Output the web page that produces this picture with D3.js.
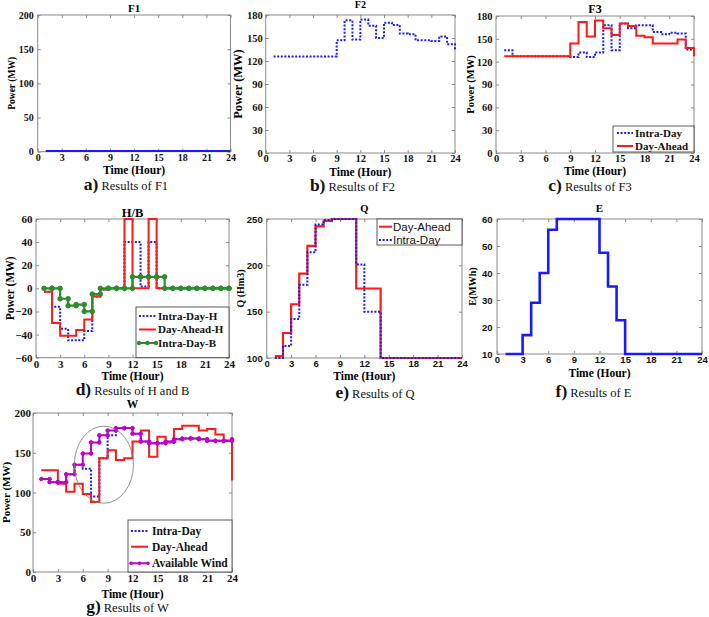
<!DOCTYPE html>
<html><head><meta charset="utf-8">
<script src="https://cdn.jsdelivr.net/npm/d3@7"></script>
<style>
body{margin:0;background:#fff}
svg{display:block}
</style>
</head><body>
<svg id="c" width="709" height="617"></svg>
<script>
// ---------------- DATA ----------------
const HOURS = [1,2,3,4,5,6,7,8,9,10,11,12,13,14,15,16,17,18,19,20,21,22,23,24];
const X_TICKS = [0,3,6,9,12,15,18,21,24];

const F1_TICKS = [0,50,100,150,200];
const F1_POWER = [1,1,1,1,1,1,1,1,1,1,1,1,1,1,1,1,1,1,1,1,1,1,1,1];

const F2_TICKS = [0,30,60,90,120,150,180];
const F2_POWER = [126,126,126,126,126,126,126,126,147,173,148,174,166,150,170,167,156,155,147,147,146,152,142,134];

const F3_TICKS = [0,30,60,90,120,150,180];
const F3_INTRA = [135,127,127,127,127,127,127,127,126,132,126,132,168,135,170,164,168,168,159,156,158,157,136,136];
const F3_AHEAD = [127,127,127,127,127,127,127,127,144,172,153,174,164,155,170,167,154,152,144,144,144,149,138,127];

const HB_TICKS = [-60,-40,-20,0,20,40,60];
const HB_INTRA_H = [-3,-16,-35,-45,-45,-37,-7,-1,0,0,40,40,1.5,40,0,0,0,0,0,0,0,0,0,0];
const HB_AHEAD_H = [-3,-30,-41,-41,-36,-27,-7,-1,0,0,60,0,0,60,0,0,0,0,0,0,0,0,0,0];
const HB_INTRA_B = [0,0,-9,-15,-14,-20,-5,0,0,0,0,10,10,10,10,0,0,0,0,0,0,0,0,0];

const Q_TICKS = [100,150,200,250];
const Q_AHEAD = [102,127,158,191,221,242,248,250,250,250,175,175,175,100,100,100,100,100,100,100,100,100,100,100];
const Q_INTRA = [100,113,142,179,214,244,249,250,250,250,201,150,150,100,100,100,100,100,100,100,100,100,100,100];

const E_TICKS = [10,20,30,40,50,60];
const E_VALUES = [10,10,17,29,40,56,60,60,60,60,60,47.5,35,22.5,10,10,10,10,10,10,10,10,10,10];

const W_TICKS = [0,50,100,150,200];
const W_INTRA = [117,113,113,123,135,130,95,143,172,181,181,174,164,162,162,164,167,168,168,167,165,165,165,167];
const W_AHEAD = [128,128,111,101,111,98,88,143,153,141,143,164,178,145,170,163,180,184,184,178,180,173,165,115];
const W_AVAIL = [117,113,113,123,135,149,163,172,178,181,181,174,164,162,162,164,167,168,168,167,165,165,165,167];
// annotation ellipse (center hour, center MW, radius hours, radius MW)
const W_ELLIPSE = [8.55, 135, 3.56, 48.5];

// ---------------- STYLE ----------------
const SERIF = "'Liberation Serif','Times New Roman',serif";
const SANS = "'Liberation Sans',Arial,sans-serif";
const BLUE = "#1a1aff", RED = "#ff1a1a", GREEN = "#2e8b2e", MAG = "#c000c8", FRAME = "#8a8a8a";

const svg = d3.select("#c");

function vertexPts(vals){
  const pts = [];
  vals.forEach((v,i)=>{ if(i>0) pts.push([HOURS[i], vals[i-1]]); pts.push([HOURS[i], v]); });
  return pts;
}

function panel(o){
  const g = svg.append("g");
  const x = d3.scaleLinear().domain([0,24]).range([o.l,o.r]);
  const y = d3.scaleLinear().domain(o.yDom).range([o.b,o.t]);
  const tf = o.tickFont || SERIF;

  const gb = g.append("g").attr("transform",`translate(0,${o.b})`)
    .call(d3.axisBottom(x).tickValues(X_TICKS).tickSizeInner(-3).tickSizeOuter(0).tickPadding(o.xPad||2));
  g.append("g").attr("transform",`translate(0,${o.t})`)
    .call(d3.axisTop(x).tickValues(X_TICKS).tickSizeInner(-3).tickSizeOuter(0).tickFormat(""));
  const gl = g.append("g").attr("transform",`translate(${o.l},0)`)
    .call(d3.axisLeft(y).tickValues(o.yTicks).tickSizeInner(-3).tickSizeOuter(0).tickPadding(o.yPad||4));
  g.append("g").attr("transform",`translate(${o.r},0)`)
    .call(d3.axisRight(y).tickValues(o.yTicks).tickSizeInner(-3).tickSizeOuter(0).tickFormat(""));
  g.selectAll(".domain").remove();
  g.selectAll(".tick line").attr("stroke",FRAME);
  [gb,gl].forEach(a=>a.selectAll("text")
    .attr("font-family",tf).attr("font-weight","bold").attr("font-size",o.tickSize).attr("fill","#111"));

  g.append("rect").attr("x",o.l).attr("y",o.t).attr("width",o.r-o.l).attr("height",o.b-o.t)
    .attr("fill","none").attr("stroke",FRAME).attr("stroke-width",1);

  const line = d3.line().x(d=>x(d[0])).y(d=>y(d[1])).curve(d3.curveStepAfter);
  o.series.forEach(s=>{
    g.append("path").datum(s.vals.map((v,i)=>[HOURS[i],v]))
      .attr("d",line).attr("fill","none").attr("stroke",s.color)
      .attr("stroke-width",s.width||2).attr("stroke-dasharray",s.dash||null);
    if(s.marker){
      g.append("g").selectAll("circle").data(vertexPts(s.vals)).join("circle")
        .attr("cx",d=>x(d[0])).attr("cy",d=>y(d[1])).attr("r",s.marker)
        .attr("fill",s.color).attr("stroke",s.color);
    }
  });

  // title
  g.append("text").attr("x",(o.l+o.r)/2).attr("y",o.titleY).attr("text-anchor","middle")
    .attr("font-family",SERIF).attr("font-weight","bold").attr("font-size",o.titleSize||11.5).text(o.title);
  // x label
  g.append("text").attr("x",(o.l+o.r)/2).attr("y",o.xlabY).attr("text-anchor","middle")
    .attr("font-family",SERIF).attr("font-weight","bold").attr("font-size",11.5).text("Time (Hour)");
  // y label
  g.append("text").attr("transform",`translate(${o.ylabX},${(o.t+o.b)/2}) rotate(-90)`)
    .attr("text-anchor","middle").attr("dy","0.35em")
    .attr("font-family",SERIF).attr("font-weight","bold").attr("font-size",o.ylabSize).text(o.ylab);
  // caption
  const cap = g.append("text").attr("x",o.capX).attr("y",o.capY).attr("text-anchor","middle").attr("font-family",SERIF).attr("fill","#111");
  cap.append("tspan").attr("font-weight","bold").attr("font-size",17.5).text(o.capL);
  cap.append("tspan").attr("font-size",12.5).attr("dx",3).text(o.capT);

  if(o.legend){
    const L = o.legend;
    g.append("rect").attr("x",L.x0).attr("y",L.y0).attr("width",L.x1-L.x0).attr("height",L.y1-L.y0)
      .attr("fill","#fff").attr("stroke","#333").attr("stroke-width",0.8);
    L.items.forEach(it=>{
      g.append("line").attr("x1",L.lx0).attr("x2",L.lx1).attr("y1",it.y).attr("y2",it.y)
        .attr("stroke",it.color).attr("stroke-width",it.width||2).attr("stroke-dasharray",it.dash||null);
      if(it.marker){
        [L.lx0,(L.lx0+L.lx1)/2,L.lx1].forEach(px=>g.append("circle").attr("cx",px).attr("cy",it.y).attr("r",it.marker).attr("fill",it.color));
      }
      g.append("text").attr("x",L.tx).attr("y",it.y).attr("dy","0.35em")
        .attr("font-family",L.font||SERIF).attr("font-weight",L.weight||"bold").attr("font-size",L.size||11)
        .attr("fill","#111").text(it.label);
    });
  }
  return {g,x,y};
}

// a) F1
panel({l:37.7,r:230.5,t:15,b:151.7,yDom:[0,200],yTicks:F1_TICKS,tickSize:10,yPad:4,
  title:"F1",titleY:12,titleSize:11,xlabY:174,ylab:"Power (MW)",ylabX:12,ylabSize:9.5,
  capX:126,capY:190,capL:"a)",capT:"Results of F1",
  series:[{vals:F1_POWER,color:BLUE,width:2}]});

// b) F2
panel({l:265.7,r:455,t:15,b:153,yDom:[0,180],yTicks:F2_TICKS,tickSize:10.5,yPad:3,
  title:"F2",titleY:8,titleSize:10,xlabY:176,ylab:"Power (MW)",ylabX:238,ylabSize:12.5,
  capX:352.5,capY:191,capL:"b)",capT:"Results of F2",
  series:[{vals:F2_POWER,color:BLUE,width:2,dash:"2,1.6"}]});

// c) F3
panel({l:496,r:694,t:16,b:153,yDom:[0,180],yTicks:F3_TICKS,tickSize:10.5,yPad:3.5,
  title:"F3",titleY:13,titleSize:12,xlabY:175,ylab:"Power (MW)",ylabX:470,ylabSize:10.5,
  capX:590,capY:191,capL:"c)",capT:"Results of F3",
  series:[{vals:F3_INTRA,color:BLUE,width:2,dash:"2,1.6"},{vals:F3_AHEAD,color:RED,width:2}],
  legend:{x0:613,x1:694,y0:126,y1:152,lx0:617,lx1:633,tx:635,size:11,
    items:[{label:"Intra-Day",color:BLUE,dash:"2,1.6",y:133},{label:"Day-Ahead",color:RED,y:146}]}});

// d) H/B
panel({l:36,r:229,t:219,b:357.7,yDom:[-60,60],yTicks:HB_TICKS,tickSize:11,yPad:3.5,
  title:"H/B",titleY:217,titleSize:12.5,xlabY:380,ylab:"Power (MW)",ylabX:10,ylabSize:11.5,
  capX:132.5,capY:395,capL:"d)",capT:"Results of H and B",
  series:[{vals:HB_INTRA_H,color:BLUE,width:2,dash:"2,1.6"},{vals:HB_AHEAD_H,color:RED,width:2},
          {vals:HB_INTRA_B,color:GREEN,width:2.2,marker:2.3}],
  legend:{x0:136,x1:229,y0:307,y1:357.7,lx0:139,lx1:156,tx:158,size:11,
    items:[{label:"Intra-Day-H",color:BLUE,dash:"2,1.6",y:316},{label:"Day-Ahead-H",color:RED,y:329.5},
           {label:"Intra-Day-B",color:GREEN,marker:2.2,y:343}]}});

// e) Q
panel({l:266.7,r:462,t:219,b:358,yDom:[100,250],yTicks:Q_TICKS,tickFont:SANS,tickSize:9.5,yPad:4,
  title:"Q",titleY:212,titleSize:10.5,xlabY:380,ylab:"Q (Hm3)",ylabX:240,ylabSize:10,
  capX:375,capY:398,capL:"e)",capT:"Results of Q",
  series:[{vals:Q_AHEAD,color:RED,width:2.2},{vals:Q_INTRA,color:BLUE,width:2,dash:"2,1.6"}],
  legend:{x0:377,x1:462,y0:219,y1:245,lx0:379,lx1:392,tx:393,size:11.5,font:SANS,weight:"normal",
    items:[{label:"Day-Ahead",color:RED,y:226.7},{label:"Intra-Day",color:BLUE,dash:"2,1.6",y:240}]}});

// f) E
panel({l:497,r:702,t:219,b:354,yDom:[10,60],yTicks:E_TICKS,tickFont:SANS,tickSize:9.5,yPad:4.5,
  title:"E",titleY:212,titleSize:11,xlabY:377,ylab:"E(MWh)",ylabX:472,ylabSize:10,
  capX:593.5,capY:397,capL:"f)",capT:"Results of E",
  series:[{vals:E_VALUES,color:BLUE,width:2.6}]});

// g) W
const pg = panel({l:33,r:232,t:413,b:572,yDom:[0,200],yTicks:W_TICKS,tickSize:11,yPad:2,
  title:"W",titleY:408,titleSize:11.5,xlabY:598,ylab:"Power (MW)",ylabX:6,ylabSize:11,
  capX:127.5,capY:612,capL:"g)",capT:"Results of W",
  series:[{vals:W_INTRA,color:BLUE,width:2,dash:"2,1.6"},{vals:W_AHEAD,color:RED,width:2},
          {vals:W_AVAIL,color:MAG,width:2,marker:1.8}],
  legend:{x0:128,x1:232,y0:520,y1:572,lx0:131,lx1:148,tx:152,size:11.5,
    items:[{label:"Intra-Day",color:BLUE,dash:"2,1.6",y:531},{label:"Day-Ahead",color:RED,y:546.7},
           {label:"Available Wind",color:MAG,marker:1.8,y:563.3}]}});
pg.g.append("ellipse")
  .attr("cx",pg.x(W_ELLIPSE[0])).attr("cy",pg.y(W_ELLIPSE[1]))
  .attr("rx",pg.x(W_ELLIPSE[2])-pg.x(0)).attr("ry",pg.y(0)-pg.y(W_ELLIPSE[3]))
  .attr("fill","none").attr("stroke","#777").attr("stroke-width",0.8);
</script>
</body></html>
